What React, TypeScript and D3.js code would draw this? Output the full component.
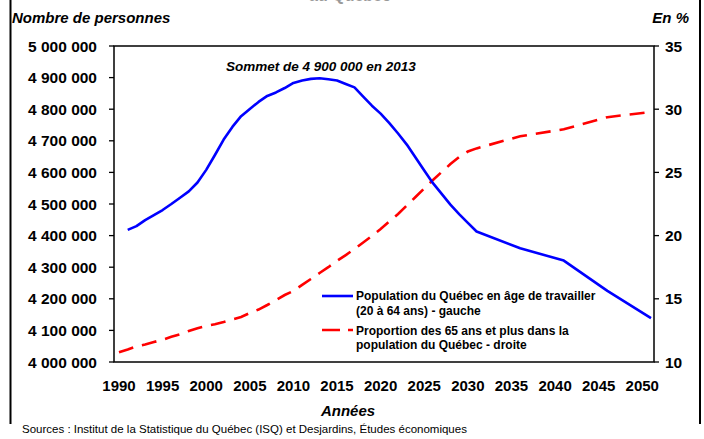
import React from 'react';
import * as d3 from 'd3';

// Population 20-64 ans (left axis), yearly then every 5 years
const popYears = [
  1991, 1992, 1993, 1994, 1995, 1996, 1997, 1998, 1999, 2000,
  2001, 2002, 2003, 2004, 2005, 2006, 2007, 2008, 2009, 2010,
  2011, 2012, 2013, 2014, 2015, 2016, 2017, 2018, 2019, 2020,
  2021, 2022, 2023, 2024, 2025, 2026, 2027, 2028, 2029, 2030,
  2031, 2036, 2041, 2046, 2051,
];
const popValues = [
  4418000, 4430000, 4449000, 4465000, 4481000, 4500000, 4520000, 4540000, 4568000, 4608000,
  4655000, 4704000, 4744000, 4778000, 4801000, 4823000, 4842000, 4853000, 4867000, 4883000,
  4891000, 4896000, 4898000, 4895000, 4891000, 4880000, 4869000, 4840000, 4811000, 4786000,
  4756000, 4723000, 4688000, 4647000, 4606000, 4566000, 4532000, 4498000, 4468000, 4440000,
  4413000, 4360000, 4321000, 4225000, 4139000,
];

// Proportion des 65 ans et plus (right axis, %)
const shareYears = [
  1990, 1991, 1992, 1993, 1994, 1995, 1996, 1997, 1998, 1999,
  2000, 2001, 2002, 2003, 2004, 2005, 2006, 2007, 2008, 2009,
  2010, 2011, 2012, 2013, 2014, 2015, 2016, 2017, 2018, 2019,
  2020, 2021, 2022, 2023, 2024, 2025, 2026, 2027, 2028, 2029,
  2030, 2031, 2036, 2041, 2046, 2051,
];
const shareValues = [
  10.77, 10.99, 11.24, 11.38, 11.58, 11.76, 11.99, 12.19, 12.45, 12.67,
  12.85, 12.98, 13.16, 13.36, 13.56, 13.88, 14.15, 14.51, 14.9, 15.3,
  15.62, 16.1, 16.57, 17.04, 17.5, 18.0, 18.46, 18.94, 19.45, 19.97,
  20.52, 21.12, 21.71, 22.38, 23.05, 23.73, 24.4, 25.03, 25.66, 26.22,
  26.65, 26.9, 27.86, 28.41, 29.37, 29.78,
];

const yearLabels = [1990, 1995, 2000, 2005, 2010, 2015, 2020, 2025, 2030, 2035, 2040, 2045, 2050];

const font = '"Liberation Sans", Arial, sans-serif';

const plot = { left: 114, right: 654, top: 46, bottom: 362 };

const App: React.FC = () => {
  const x = d3.scaleLinear().domain([1990, 2051]).range([119, 651]);
  const yLeft = d3.scaleLinear().domain([4000000, 5000000]).range([plot.bottom, plot.top]);
  const yRight = d3.scaleLinear().domain([10, 35]).range([plot.bottom, plot.top]);

  const fmt = d3.formatLocale({ decimal: ',', thousands: ' ', grouping: [3], currency: ['', ' $'] }).format(',d');

  const popLine = d3.line<number>()
    .x((_, i) => x(popYears[i]))
    .y(d => yLeft(d));
  const shareLine = d3.line<number>()
    .x((_, i) => x(shareYears[i]))
    .y(d => yRight(d));

  return (
    <svg width={704} height={439} style={{ position: 'absolute', left: 0, top: 0 }} fontFamily={font}>
      <rect width={704} height={439} fill="#fff" />

      {/* title, cut off at the top edge as in the source */}
      <text x={350} y={1} textAnchor="middle" fontSize={16} fontWeight="bold" fill="#999">au Québec</text>

      {/* outer frame */}
      <line x1={10.5} y1={0} x2={10.5} y2={424} stroke="#000" strokeWidth={2} />
      <line x1={700} y1={0} x2={700} y2={424} stroke="#000" strokeWidth={2} />

      <text x={12} y={23} fontSize={15} fontWeight="bold" fontStyle="italic">Nombre de personnes</text>
      <text x={689} y={23} fontSize={15} fontWeight="bold" fontStyle="italic" textAnchor="end">En %</text>

      {/* plot frame */}
      <rect x={plot.left} y={plot.top} width={plot.right - plot.left} height={plot.bottom - plot.top}
        fill="none" stroke="#000" strokeWidth={1.5} />

      {/* left axis */}
      {yLeft.ticks(10).map(t => (
        <g key={`l-${t}`}>
          <line x1={plot.left - 5} x2={plot.left} y1={yLeft(t)} y2={yLeft(t)} stroke="#000" strokeWidth={1.3} />
          <text x={97} y={yLeft(t)} dy="0.36em" textAnchor="end" fontSize={15.5} fontWeight="bold">{fmt(t)}</text>
        </g>
      ))}

      {/* right axis */}
      {yRight.ticks(5).map(t => (
        <g key={`r-${t}`}>
          <line x1={plot.right} x2={plot.right + 5} y1={yRight(t)} y2={yRight(t)} stroke="#000" strokeWidth={1.3} />
          <text x={665} y={yRight(t)} dy="0.36em" fontSize={15.5} fontWeight="bold">{t}</text>
        </g>
      ))}

      {/* year labels */}
      {yearLabels.map(yr => (
        <text key={`x-${yr}`} x={x(yr)} y={391} textAnchor="middle" fontSize={15} fontWeight="bold">{yr}</text>
      ))}

      <text x={348} y={416} textAnchor="middle" fontSize={15} fontWeight="bold" fontStyle="italic">Années</text>
      <text x={22} y={433} fontSize={11.5}>Sources : Institut de la Statistique du Québec (ISQ) et Desjardins, Études économiques</text>

      {/* series */}
      <path d={shareLine(shareValues) ?? ''} fill="none" stroke="#ff0000" strokeWidth={2.6} strokeDasharray="15,9" />
      <path d={popLine(popValues) ?? ''} fill="none" stroke="#0000ff" strokeWidth={2.6} strokeLinejoin="round" />

      <text x={226} y={71} fontSize={13.5} fontWeight="bold" fontStyle="italic">Sommet de 4 900 000 en 2013</text>

      {/* legend */}
      <line x1={322} x2={353} y1={296} y2={296} stroke="#0000ff" strokeWidth={2.6} />
      <text x={356} y={300} fontSize={12} fontWeight="bold">Population du Québec en âge de travailler</text>
      <text x={356} y={315} fontSize={12} fontWeight="bold">(20 à 64 ans) - gauche</text>
      <line x1={322} x2={353} y1={330} y2={330} stroke="#ff0000" strokeWidth={2.6} strokeDasharray="18,8" />
      <text x={356} y={334.5} fontSize={12} fontWeight="bold">Proportion des 65 ans et plus dans la</text>
      <text x={356} y={349} fontSize={12} fontWeight="bold">population du Québec - droite</text>
    </svg>
  );
};

export default App;
